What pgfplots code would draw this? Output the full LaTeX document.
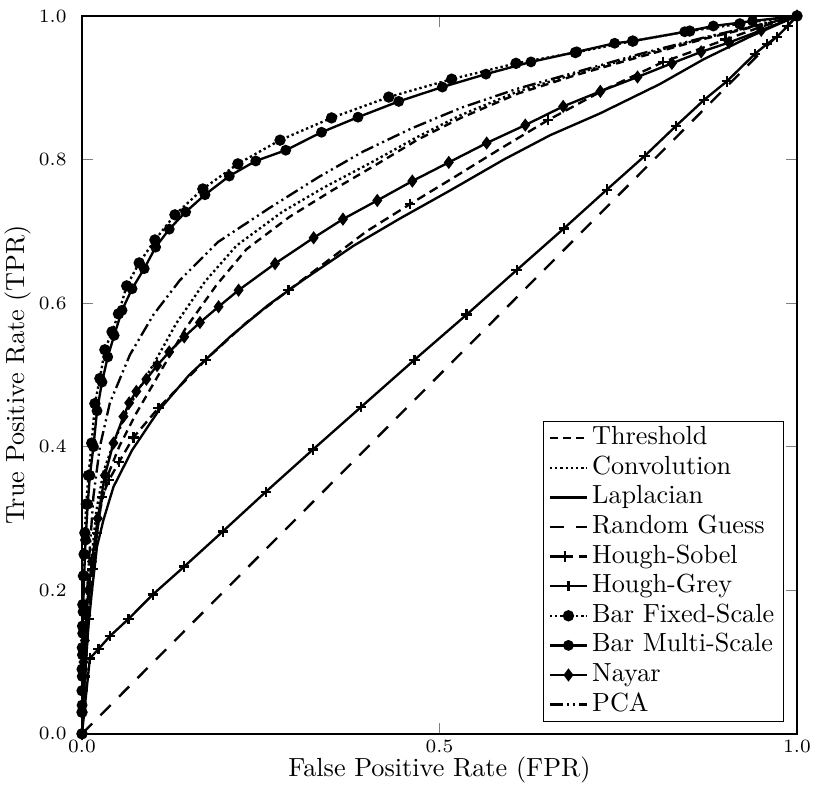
\documentclass[border=0pt]{standalone}
\usepackage{pgfplots}
\pgfplotsset{compat=1.18}
\begin{document}
\begin{tikzpicture}
\begin{axis}[
  scale only axis, width=272.9pt, height=274pt,
  xmin=0, xmax=1, ymin=0, ymax=1,
  xtick={0,0.5,1}, xticklabels={0.0,0.5,1.0},
  ytick={0,0.2,0.4,0.6,0.8,1}, yticklabels={0.0,0.2,0.4,0.6,0.8,1.0},
  tick label style={font=\fontsize{7.2}{8}\selectfont, inner sep=0pt},
  yticklabel style={xshift=-5.7pt},
  xticklabel style={yshift=-2.2pt},
  tick align=inside,
  axis line style={line width=0.6pt},
  xlabel={False Positive Rate (FPR)}, ylabel={True Positive Rate (TPR)},
  label style={font=\fontsize{10}{12}\selectfont},
  xlabel style={at={(axis description cs:0.5,-0.051)}, anchor=center},
  ylabel style={at={(axis description cs:-0.0895,0.5)}, anchor=center},
  legend cell align=left,
  legend style={at={(axis description cs:0.9817,0.0168)}, anchor=south east, draw=black,
    font=\fontsize{10}{12}\selectfont, row sep=0pt, inner xsep=2pt, inner ysep=0.7pt,
    nodes={inner xsep=1.5pt, inner ysep=1.2pt, text height=6.9pt, text depth=2pt}},
  legend image code/.code={\draw[mark repeat=2,mark phase=2,#1] plot coordinates {(0cm,0cm) (0.25cm,0cm) (0.5cm,0cm)};},
  every axis plot/.append style={line width=0.9pt, black},
]
% Threshold
\addplot[dash pattern=on 3pt off 2pt] coordinates {
(0,0)(0.004,0.08)(0.009,0.16)(0.016,0.24)(0.025,0.31)(0.036,0.36)(0.052,0.40)(0.075,0.445)(0.11,0.505)(0.145,0.565)(0.188,0.625)(0.23,0.675)(0.29,0.72)(0.35,0.757)(0.41,0.792)(0.47,0.828)(0.53,0.858)(0.61,0.892)(0.692,0.918)(0.78,0.943)(0.87,0.968)(0.94,0.985)(1,1)};
\addlegendentry{Threshold}
% Convolution
\addplot[dash pattern=on 0.9pt off 1.1pt] coordinates {
(0,0)(0.003,0.08)(0.007,0.16)(0.013,0.24)(0.020,0.31)(0.030,0.365)(0.044,0.405)(0.067,0.458)(0.100,0.515)(0.132,0.572)(0.172,0.630)(0.216,0.680)(0.28,0.727)(0.34,0.762)(0.403,0.795)(0.47,0.832)(0.53,0.862)(0.61,0.895)(0.692,0.920)(0.78,0.945)(0.87,0.969)(0.94,0.986)(1,1)};
\addlegendentry{Convolution}
% Laplacian
\addplot[solid] coordinates {
(0,0)(0.004,0.08)(0.009,0.15)(0.014,0.20)(0.021,0.261)(0.030,0.298)(0.044,0.344)(0.07,0.395)(0.107,0.45)(0.15,0.50)(0.207,0.553)(0.26,0.597)(0.309,0.632)(0.38,0.68)(0.445,0.718)(0.515,0.757)(0.59,0.80)(0.655,0.834)(0.724,0.864)(0.808,0.905)(0.87,0.94)(0.934,0.971)(1,1)};
\addlegendentry{Laplacian}
% Random Guess
\addplot[dash pattern=on 5.5pt off 4.5pt] coordinates {(0,0)(1,1)};
\addlegendentry{Random Guess}
% Hough-Sobel
\addplot[dash pattern=on 3.5pt off 2pt, mark=+, mark size=2pt, mark options={solid},
  mark indices={2,3,4,5,6,7,8,9,10,11,13,16,19,21,22},
  legend image code/.code={%
    \draw[black, line width=0.9pt, dash pattern=on 3.5pt off 2pt] (0cm,0cm) -- (0.5cm,0cm);
    \draw[black, line width=0.9pt, solid, mark=+, mark size=2pt, mark indices={1}] plot coordinates {(0.2cm,0cm)};}] coordinates {
(0,0)(0.004,0.08)(0.009,0.16)(0.015,0.23)(0.021,0.28)(0.028,0.330)(0.038,0.354)(0.052,0.379)(0.072,0.413)(0.107,0.454)(0.173,0.521)(0.23,0.573)(0.289,0.618)(0.345,0.66)(0.398,0.700)(0.459,0.738)(0.52,0.775)(0.585,0.815)(0.652,0.855)(0.73,0.897)(0.813,0.936)(0.90,0.967)(0.95,0.985)(1,1)};
\addlegendentry{Hough-Sobel}
% Hough-Grey
\addplot[solid, mark=+, mark size=2pt] coordinates {
(0,0)(0.011,0.105)(0.023,0.118)(0.039,0.136)(0.065,0.160)(0.099,0.194)(0.143,0.233)(0.197,0.282)(0.257,0.337)(0.323,0.396)(0.39,0.455)(0.465,0.521)(0.538,0.584)(0.608,0.646)(0.674,0.704)(0.734,0.758)(0.787,0.805)(0.831,0.847)(0.870,0.883)(0.902,0.909)(0.941,0.947)(0.958,0.961)(0.972,0.971)(0.987,0.986)(1,1)};
\addlegendentry{Hough-Grey}
% Bar Fixed-Scale
\addplot[dash pattern=on 0.9pt off 1.1pt, mark=*, mark size=1.7pt, mark options={solid}] coordinates {
(0,0)(0,0.03)(0.0001,0.06)(0.0002,0.09)(0.0005,0.12)(0.0008,0.15)(0.0012,0.18)(0.002,0.22)(0.003,0.25)(0.004,0.28)(0.006,0.32)(0.009,0.36)(0.0136,0.405)(0.018,0.46)(0.025,0.495)(0.032,0.535)(0.042,0.56)(0.051,0.585)(0.0625,0.624)(0.080,0.656)(0.102,0.688)(0.130,0.723)(0.169,0.759)(0.218,0.794)(0.277,0.827)(0.349,0.858)(0.429,0.887)(0.517,0.912)(0.607,0.934)(0.690,0.949)(0.77,0.965)(0.85,0.979)(0.92,0.989)(1,1)};
\addlegendentry{Bar Fixed-Scale}
% Bar Multi-Scale
\addplot[solid, mark=*, mark size=1.6pt] coordinates {
(0,0)(0.0001,0.04)(0.0003,0.08)(0.0006,0.11)(0.001,0.14)(0.0015,0.17)(0.003,0.22)(0.005,0.27)(0.008,0.32)(0.011,0.36)(0.016,0.40)(0.021,0.45)(0.028,0.49)(0.036,0.525)(0.045,0.555)(0.056,0.59)(0.070,0.620)(0.087,0.648)(0.103,0.678)(0.122,0.703)(0.145,0.727)(0.172,0.751)(0.206,0.777)(0.243,0.798)(0.285,0.813)(0.335,0.838)(0.386,0.859)(0.443,0.881)(0.504,0.901)(0.565,0.919)(0.628,0.936)(0.692,0.950)(0.745,0.962)(0.771,0.965)(0.843,0.978)(0.883,0.986)(0.938,0.993)(1,1)};
\addlegendentry{Bar Multi-Scale}
% Nayar
\addplot[solid, mark=diamond*, mark size=1.8pt] coordinates {
(0,0)(0.0005,0.03)(0.001,0.06)(0.002,0.1)(0.004,0.13)(0.006,0.165)(0.009,0.2)(0.014,0.24)(0.022,0.30)(0.032,0.36)(0.044,0.405)(0.058,0.442)(0.066,0.461)(0.076,0.477)(0.090,0.494)(0.105,0.513)(0.122,0.532)(0.143,0.553)(0.165,0.573)(0.191,0.595)(0.219,0.618)(0.27,0.655)(0.324,0.691)(0.365,0.717)(0.413,0.743)(0.462,0.770)(0.513,0.796)(0.566,0.823)(0.620,0.848)(0.673,0.874)(0.725,0.895)(0.777,0.915)(0.825,0.934)(0.866,0.950)(0.905,0.963)(0.95,0.98)(1,1)};
\addlegendentry{Nayar}
% PCA
\addplot[dash pattern=on 5pt off 1.5pt on 0.8pt off 1.5pt on 0.8pt off 1.5pt] coordinates {
(0,0)(0.002,0.08)(0.005,0.16)(0.009,0.23)(0.016,0.331)(0.025,0.40)(0.039,0.461)(0.067,0.528)(0.100,0.584)(0.137,0.632)(0.19,0.685)(0.263,0.733)(0.33,0.775)(0.393,0.811)(0.46,0.843)(0.53,0.872)(0.61,0.899)(0.692,0.922)(0.78,0.947)(0.87,0.970)(0.94,0.986)(1,1)};
\addlegendentry{PCA}
\end{axis}
\pgfresetboundingbox
\path ([shift={(-31.3pt,-19.5pt)}]current axis.south west) rectangle ([shift={(6.5pt,6.1pt)}]current axis.north east);
\end{tikzpicture}
\end{document}
